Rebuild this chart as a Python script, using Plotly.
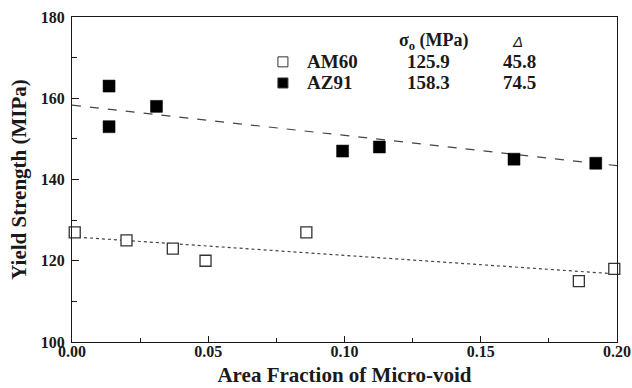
import numpy as np
import plotly.graph_objects as go

# ---- data ----
alloys = ["AM60", "AZ91"]
sigma0 = [125.9, 158.3]
delta = [45.8, 74.5]

am60_x = [0.001, 0.020, 0.037, 0.049, 0.086, 0.186, 0.199]
am60_y = [127, 125, 123, 120, 127, 115, 118]
az91_x = [0.0136, 0.0136, 0.031, 0.0993, 0.1128, 0.1622, 0.1922]
az91_y = [163, 153, 158, 147, 148, 145, 144]

x_ticks = [0.00, 0.05, 0.10, 0.15, 0.20]
x_ticklabels = ["0.00", "0.05", "0.10", "0.15", "0.20"]
y_ticks = [100, 120, 140, 160, 180]

FONT = "Liberation Serif"
INK = "#1a1a1a"

fig = go.Figure()

fit_x = np.array([0.0, 0.2])
line_styles = ["dot", "dash"]
for s0, d, dash in zip(sigma0, delta, line_styles):
    fig.add_trace(go.Scatter(
        x=fit_x, y=s0 - d * fit_x, mode="lines",
        line=dict(color="#444444", width=1.2, dash=dash),
        showlegend=False, hoverinfo="skip", cliponaxis=True))

fig.add_trace(go.Scatter(
    x=am60_x, y=am60_y, mode="markers",
    marker=dict(symbol="square", size=11, color="white",
                line=dict(color="#333333", width=1.3)),
    showlegend=False, cliponaxis=False))
fig.add_trace(go.Scatter(
    x=az91_x, y=az91_y, mode="markers",
    marker=dict(symbol="square", size=12, color="black",
                line=dict(color="black", width=0.5)),
    showlegend=False, cliponaxis=False))

# ---- legend/table as annotations ----
ann = []
shapes = []
header_y = 0.926
row_y = [0.862, 0.797]
ann.append(dict(x=0.664, y=header_y, xref="paper", yref="paper",
                xanchor="center", yanchor="middle",
                text="<b>σ<sub>o</sub> (MPa)</b>", showarrow=False,
                font=dict(family=FONT, size=18, color=INK)))
ann.append(dict(x=0.818, y=header_y, xref="paper", yref="paper",
                xanchor="center", yanchor="middle",
                text="<i>Δ</i>", showarrow=False,
                font=dict(family="Liberation Sans", size=15, color=INK)))
fills = ["white", "black"]
for name, s0, d, ry, fc in zip(alloys, sigma0, delta, row_y, fills):
    ann.append(dict(x=0.4275, y=ry, xref="paper", yref="paper",
                    xanchor="left", yanchor="middle",
                    text="<b>%s</b>" % name, showarrow=False,
                    font=dict(family=FONT, size=19, color=INK)))
    ann.append(dict(x=0.655, y=ry, xref="paper", yref="paper",
                    xanchor="center", yanchor="middle",
                    text="<b>%.1f</b>" % s0, showarrow=False,
                    font=dict(family=FONT, size=19, color=INK)))
    ann.append(dict(x=0.822, y=ry, xref="paper", yref="paper",
                    xanchor="center", yanchor="middle",
                    text="<b>%.1f</b>" % d, showarrow=False,
                    font=dict(family=FONT, size=19, color=INK)))
    cx = 0.387
    hw = 5 / 545
    hh = 5 / 325
    shapes.append(dict(type="rect", xref="paper", yref="paper",
                       x0=cx - hw, x1=cx + hw, y0=ry - hh, y1=ry + hh,
                       fillcolor=fc, line=dict(color="#333333", width=1)))

fig.update_layout(
    width=632, height=388,
    margin=dict(l=72, r=15, t=17, b=46, autoexpand=False),
    paper_bgcolor="white", plot_bgcolor="white",
    font=dict(family=FONT, color=INK),
    annotations=ann, shapes=shapes,
    showlegend=False,
)
fig.update_xaxes(
    range=[0, 0.2], tickvals=x_ticks, ticktext=["<b>%s</b>" % t for t in x_ticklabels],
    ticks="inside", ticklen=6, tickwidth=1.2, tickcolor=INK,
    minor=dict(ticks="inside", ticklen=4, tickwidth=1, dtick=0.025, tickcolor=INK, tick0=0),
    showline=True, linecolor=INK, linewidth=1.3, mirror=True,
    showgrid=False, zeroline=False, automargin=False,
    tickfont=dict(family=FONT, size=16, color=INK), ticklabelstandoff=-5,
    title=dict(text="<b>Area Fraction of Micro-void</b>", font=dict(family=FONT, size=21, color=INK), standoff=7),
)
fig.update_yaxes(
    range=[100, 180], tickvals=y_ticks, ticktext=["<b>%d</b>" % v for v in y_ticks],
    ticks="inside", ticklen=7, tickwidth=1.2, tickcolor=INK,
    minor=dict(ticks="inside", ticklen=5, tickwidth=1, dtick=10, tickcolor=INK, tick0=100),
    showline=True, linecolor=INK, linewidth=1.3, mirror=True,
    showgrid=False, zeroline=False, automargin=False,
    tickfont=dict(family=FONT, size=16, color=INK), ticklabelstandoff=3,
    title=dict(text="<b>Yield Strength (MIPa)</b>", font=dict(family=FONT, size=21, color=INK), standoff=8),
)

fig.write_html("out.html")
